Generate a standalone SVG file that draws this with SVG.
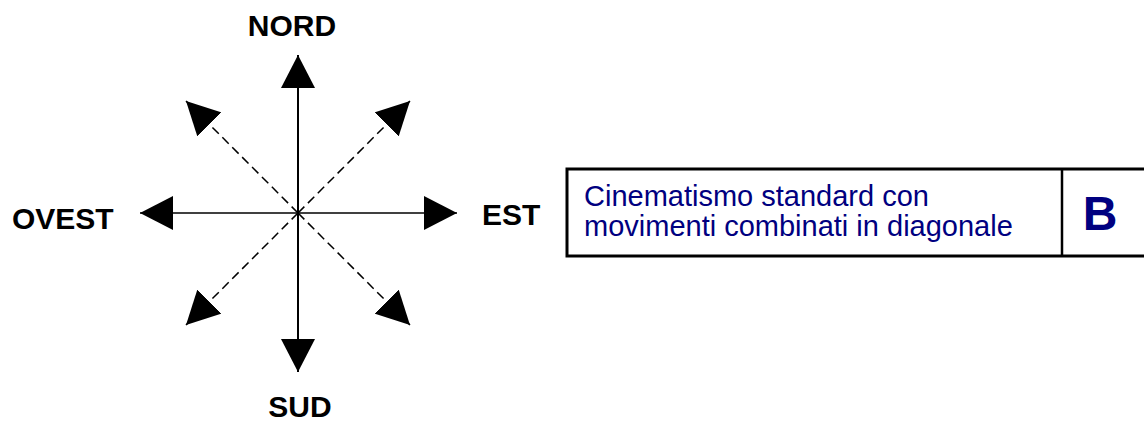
<svg xmlns="http://www.w3.org/2000/svg" width="1144" height="422" viewBox="0 0 1144 422">
  <style>
    .label { font-family: "Liberation Sans", Arial, sans-serif; font-weight: bold; font-size: 30px; fill: #000; }
    .desc { font-family: "Liberation Sans", Arial, sans-serif; font-size: 29px; fill: #000080; }
    .code { font-family: "Liberation Sans", Arial, sans-serif; font-weight: bold; font-size: 48px; fill: #000080; }
    .axis { stroke: #000; fill: none; }
    .diag { stroke: #000; stroke-width: 1.5; stroke-dasharray: 9 5; fill: none; }
    .frame { stroke: #000; fill: none; }
  </style>
  <defs>
    <marker id="head" markerUnits="userSpaceOnUse" viewBox="0 0 33 34" markerWidth="33" markerHeight="34" refX="33" refY="17" orient="auto">
      <path d="M0,0 L33,17 L0,34 Z" fill="#000"/>
    </marker>
  </defs>

  <!-- compass connectors -->
  <g id="connectors">
    <line class="axis" stroke-width="2" x1="298" y1="213" x2="298" y2="55" marker-end="url(#head)"/>
    <line class="axis" stroke-width="2" x1="298" y1="213" x2="298" y2="372" marker-end="url(#head)"/>
    <line class="axis" stroke-width="1.5" x1="298" y1="213" x2="140" y2="213" marker-end="url(#head)"/>
    <line class="axis" stroke-width="1.5" x1="298" y1="213" x2="457" y2="213" marker-end="url(#head)"/>
    <line class="diag" x1="298" y1="213" x2="186" y2="101" marker-end="url(#head)"/>
    <line class="diag" x1="298" y1="213" x2="410" y2="101" marker-end="url(#head)"/>
    <line class="diag" x1="298" y1="213" x2="186" y2="325" marker-end="url(#head)"/>
    <line class="diag" x1="298" y1="213" x2="410" y2="325" marker-end="url(#head)"/>
  </g>

  <g id="nord"><text class="label" x="292" y="36" text-anchor="middle">NORD</text></g>
  <g id="sud"><text class="label" x="300" y="417" text-anchor="middle">SUD</text></g>
  <g id="est"><text class="label" x="482" y="225">EST</text></g>
  <g id="ovest"><text class="label" x="12" y="229">OVEST</text></g>

  <!-- legend box -->
  <g id="legend">
    <rect class="frame" stroke-width="3" x="567" y="169" width="600" height="87"/>
    <line class="frame" stroke-width="2.5" x1="1062" y1="169" x2="1062" y2="256"/>
    <text class="desc" x="584" y="206">Cinematismo standard con</text>
    <text class="desc" x="584" y="236">movimenti combinati in diagonale</text>
    <text class="code" x="1100" y="230" text-anchor="middle">B</text>
  </g>
</svg>
